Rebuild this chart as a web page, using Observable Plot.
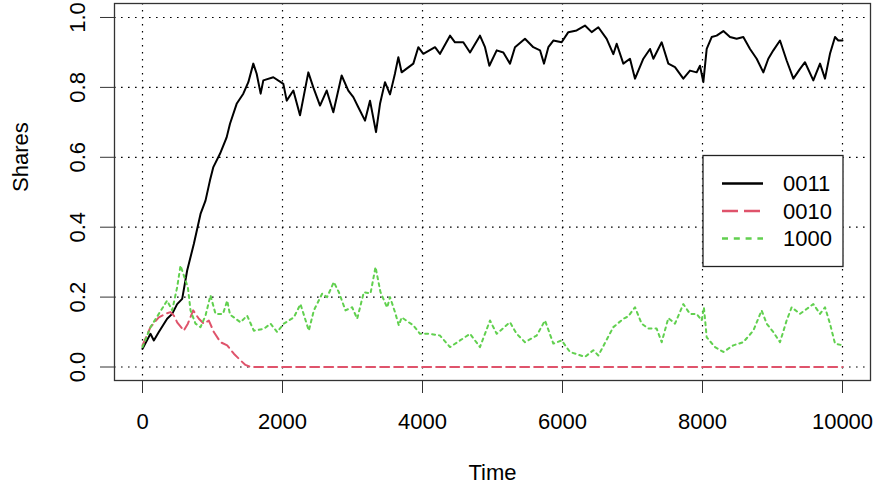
<!DOCTYPE html>
<html>
<head>
<meta charset="utf-8">
<script src="https://cdn.jsdelivr.net/npm/d3@7"></script>
<script src="https://cdn.jsdelivr.net/npm/@observablehq/plot@0.6"></script>
<style>
  html, body { margin: 0; padding: 0; background: #fff; }
  #chart svg { display: block; }
</style>
</head>
<body>
<div id="chart"></div>
<script>
// ---- data ----
const seriesNames = ["0011", "0010", "1000"];
const seriesColors = ["#000000", "#DF536B", "#61D04F"];

const xTicks = [0, 2000, 4000, 6000, 8000, 10000];
const yTicks = [0, 0.2, 0.4, 0.6, 0.8, 1.0];

const time0011 = [0,114,162,233,352,424,495,567,638,733,829,900,964,1012,1107,1202,1250,1345,1440,1512,1583,1631,1688,1726,1869,2012,2060,2155,2250,2369,2440,2536,2631,2726,2845,2940,3012,3083,3179,3250,3336,3393,3464,3536,3607,3655,3702,3869,3940,4012,4179,4250,4393,4464,4583,4679,4821,4893,4955,5060,5155,5250,5321,5464,5583,5679,5736,5798,5869,5988,6083,6202,6321,6417,6512,6631,6726,6774,6869,6964,7036,7155,7250,7298,7417,7512,7607,7726,7821,7917,7964,8012,8060,8131,8202,8298,8393,8488,8583,8679,8774,8869,8940,9012,9107,9202,9298,9393,9464,9583,9679,9750,9821,9893,9940,10000];
const share0011 = [0.052,0.095,0.076,0.100,0.138,0.152,0.180,0.195,0.276,0.352,0.438,0.476,0.534,0.572,0.610,0.657,0.696,0.753,0.782,0.815,0.868,0.839,0.782,0.820,0.829,0.810,0.762,0.791,0.720,0.843,0.800,0.748,0.791,0.729,0.834,0.791,0.772,0.743,0.705,0.762,0.672,0.753,0.815,0.780,0.840,0.886,0.843,0.868,0.915,0.896,0.915,0.896,0.948,0.929,0.929,0.900,0.948,0.915,0.862,0.906,0.900,0.868,0.915,0.939,0.915,0.906,0.868,0.915,0.934,0.929,0.958,0.963,0.977,0.958,0.972,0.939,0.895,0.925,0.868,0.882,0.825,0.882,0.910,0.882,0.929,0.868,0.858,0.825,0.848,0.843,0.862,0.815,0.910,0.944,0.948,0.961,0.944,0.939,0.944,0.910,0.882,0.843,0.882,0.906,0.934,0.877,0.825,0.853,0.872,0.820,0.868,0.825,0.896,0.944,0.934,0.934];

const time0010 = [0,114,233,328,400,448,495,590,648,724,805,876,948,1019,1114,1210,1305,1400,1471,1543,10000];
const share0010 = [0.062,0.114,0.142,0.152,0.157,0.147,0.128,0.104,0.124,0.162,0.138,0.124,0.133,0.100,0.071,0.062,0.038,0.019,0.006,0,0];

const time1000 = [0,114,233,352,424,495,543,590,648,686,757,829,900,971,1043,1150,1210,1250,1305,1400,1495,1590,1733,1829,1924,2019,2162,2257,2376,2448,2567,2638,2733,2805,2900,2995,3067,3162,3257,3329,3400,3495,3536,3607,3662,3702,3869,3964,4107,4250,4393,4536,4679,4821,4964,5060,5250,5345,5464,5631,5750,5869,5988,6107,6321,6440,6512,6726,6869,6940,7036,7131,7226,7345,7417,7512,7607,7726,7821,7917,7988,8020,8060,8179,8298,8440,8583,8726,8845,8917,9012,9107,9202,9274,9393,9488,9583,9679,9750,9821,9893,10000];
const share1000 = [0.057,0.114,0.152,0.190,0.162,0.228,0.290,0.262,0.228,0.162,0.124,0.114,0.147,0.205,0.152,0.152,0.190,0.150,0.142,0.128,0.147,0.104,0.109,0.124,0.100,0.124,0.142,0.180,0.104,0.162,0.210,0.200,0.243,0.214,0.162,0.171,0.138,0.214,0.210,0.286,0.214,0.170,0.200,0.157,0.119,0.142,0.119,0.095,0.095,0.090,0.057,0.076,0.095,0.057,0.133,0.095,0.128,0.095,0.071,0.090,0.133,0.067,0.076,0.043,0.029,0.048,0.033,0.114,0.138,0.145,0.171,0.124,0.110,0.110,0.071,0.140,0.124,0.180,0.152,0.152,0.133,0.171,0.085,0.057,0.043,0.062,0.071,0.104,0.162,0.124,0.100,0.071,0.133,0.171,0.152,0.166,0.180,0.152,0.171,0.124,0.067,0.062];

// ---- build tables ----
const rows = (times, shares) => times.map((t, i) => ({time: t, share: shares[i]}));
const data0011 = rows(time0011, share0011);
const data0010 = rows(time0010, share0010);
const data1000 = rows(time1000, share1000);

const font = "'Liberation Sans', Arial, Helvetica, sans-serif";

const chart = Plot.plot({
  width: 876,
  height: 490,
  marginLeft: 114,
  marginRight: 6,
  marginTop: 3,
  marginBottom: 110,
  style: {fontFamily: font, fontSize: "22px", color: "#000", background: "#fff"},
  x: {domain: [-400, 10400]},
  y: {domain: [-0.0386, 1.04]},
  marks: [
    Plot.gridX({ticks: xTicks, stroke: "#000", strokeOpacity: 1, strokeWidth: 1.2, strokeDasharray: "1.6,5.4"}),
    Plot.gridY({ticks: yTicks, stroke: "#000", strokeOpacity: 1, strokeWidth: 1.2, strokeDasharray: "1.6,5.4"}),
    Plot.line(data0011, {x: "time", y: "share", stroke: seriesColors[0], strokeWidth: 2}),
    Plot.line(data0010, {x: "time", y: "share", stroke: seriesColors[1], strokeWidth: 2, strokeDasharray: "9,5"}),
    Plot.line(data1000, {x: "time", y: "share", stroke: seriesColors[2], strokeWidth: 2, strokeDasharray: "3,4"}),
    Plot.frame({stroke: "#333", strokeWidth: 1.3}),
    Plot.axisX({ticks: xTicks, tickSize: 13, tickPadding: 20, tickFormat: "d", fontSize: 22, label: null, stroke: "#333"}),
    Plot.axisY({ticks: yTicks, tickSize: 14, tickPadding: 16, tickRotate: -90, tickFormat: ".1f", fontSize: 22, label: null, stroke: "#333"}),
    Plot.text(["Shares"], {frameAnchor: "left", dx: -94, rotate: -90, text: d => d, fontSize: 22}),
    Plot.text(["Time"], {frameAnchor: "bottom", dy: 99, text: d => d, fontSize: 22})
  ]
});

document.getElementById("chart").appendChild(chart);

// ---- legend (inside the plot, top-right, as in the reference) ----
const svg = d3.select(chart);
const lg = svg.append("g").attr("class", "legend").attr("text-anchor", "start");
lg.append("rect")
  .attr("x", 703).attr("y", 155.5).attr("width", 140).attr("height", 111)
  .attr("fill", "#fff").attr("stroke", "#222").attr("stroke-width", 1.3);
const dashes = [null, "16,6", "6,5.8"];
seriesNames.forEach((name, i) => {
  const y = 183.5 + i * 27.5;
  lg.append("line")
    .attr("x1", 722).attr("x2", 763).attr("y1", y).attr("y2", y)
    .attr("stroke", seriesColors[i]).attr("stroke-width", 2.6)
    .attr("stroke-dasharray", dashes[i]);
  lg.append("text")
    .attr("x", 783).attr("y", y).attr("dy", "0.36em")
    .attr("text-anchor", "start")
    .attr("font-family", font).attr("font-size", 22).attr("fill", "#000")
    .text(name);
});
</script>
</body>
</html>
